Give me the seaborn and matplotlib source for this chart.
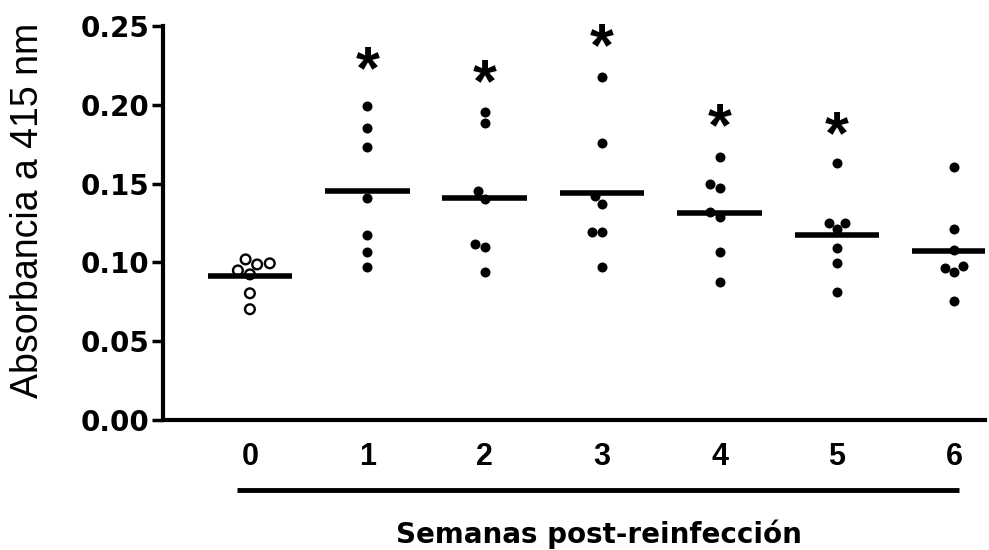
import numpy as np
import pandas as pd
import matplotlib
matplotlib.use("Agg")
import matplotlib.pyplot as plt
import seaborn as sns

# ---- data ----
weeks = ["0", "1", "2", "3", "4", "5", "6"]
w0 = [0.0994, 0.0949, 0.0924, 0.0987, 0.1019, 0.0804, 0.0703]
w1 = [0.199, 0.185, 0.173, 0.141, 0.1177, 0.1063, 0.0968]
w2 = [0.1956, 0.1886, 0.145, 0.140, 0.1114, 0.110, 0.0937]
w3 = [0.2177, 0.176, 0.142, 0.1373, 0.119, 0.119, 0.0968]
w4 = [0.1671, 0.150, 0.147, 0.132, 0.129, 0.1063, 0.0873]
w5 = [0.1633, 0.1253, 0.1247, 0.121, 0.1089, 0.0994, 0.081]
w6 = [0.1608, 0.1209, 0.108, 0.0975, 0.0962, 0.0937, 0.0753]
star_weeks = ["1", "2", "3", "4", "5"]
star_y = [0.229, 0.221, 0.244, 0.193, 0.188]
y_ticks = [0.00, 0.05, 0.10, 0.15, 0.20, 0.25]
y_tick_labels = ["0.00", "0.05", "0.10", "0.15", "0.20", "0.25"]

series = [w0, w1, w2, w3, w4, w5, w6]
df = pd.DataFrame({
    "week": np.repeat(weeks, [len(s) for s in series]),
    "abs": np.concatenate(series),
})

sns.set_theme(style="ticks")
plt.rcParams["font.family"] = ["Liberation Sans", "DejaVu Sans"]
plt.rcParams["text.color"] = "black"
plt.rcParams["axes.labelcolor"] = "black"
plt.rcParams["xtick.color"] = "black"
plt.rcParams["ytick.color"] = "black"
plt.rcParams["axes.edgecolor"] = "black"

fig = plt.figure(figsize=(9.89, 5.5), dpi=100)
ax = fig.add_axes([163 / 989, 130 / 550, (985 - 163) / 989, 394 / 550])

# open circles for week 0
n_before = len(ax.collections)
sns.swarmplot(data=df[df["week"] == "0"], x="week", y="abs", order=weeks,
              color="black", size=7, linewidth=1.7, edgecolor="black", ax=ax)
for coll in ax.collections[n_before:]:
    coll.set_facecolor("none")
    coll.set_edgecolor("black")
# filled points for weeks 1-6
sns.swarmplot(data=df[df["week"] != "0"], x="week", y="abs", order=weeks,
              color="black", size=7.2, linewidth=0, ax=ax)

# mean lines
means = df.groupby("week", sort=False)["abs"].mean().reindex(weeks)
pos = np.arange(len(weeks))
ax.hlines(means.values, pos - 0.36, pos + 0.36, color="black", lw=4, zorder=5)

# significance asterisks
star_fs = 44
for wk, yv in zip(star_weeks, star_y):
    ax.annotate("*", xy=(weeks.index(wk), yv), xytext=(0, -0.23 * star_fs),
                textcoords="offset points", ha="center", va="center",
                fontsize=star_fs, fontweight="bold", color="black")

ax.set_xlim(-0.74, 6.26)
ax.set_ylim(0, 0.25)
ax.set_yticks(y_ticks)
ax.set_yticklabels(y_tick_labels)
ax.tick_params(axis="y", length=8, width=2.5, pad=2, labelsize=20,
               color="black", labelcolor="black")
ax.tick_params(axis="x", length=0, pad=16, labelsize=22, labelcolor="black")
for lab in ax.get_yticklabels():
    lab.set_fontweight("bold")
    lab.set_family("DejaVu Sans")
for lab in ax.get_xticklabels():
    lab.set_fontweight("bold")

sns.despine(ax=ax)
ax.spines["left"].set_linewidth(3)
ax.spines["bottom"].set_linewidth(3)
ax.spines["left"].set_color("black")
ax.spines["bottom"].set_color("black")

ax.set_xlabel("")
ax.set_ylabel("Absorbancia a 415 nm", fontsize=27, color="black")
ax.yaxis.set_label_coords(-0.142, 0.533)

# grouping line and label below the categories
ax.plot([-0.11, 6.04], [-0.178, -0.178], transform=ax.get_xaxis_transform(),
        color="black", lw=3.5, clip_on=False, solid_capstyle="butt")
ax.text(2.97, -0.29, "Semanas post-reinfección", transform=ax.get_xaxis_transform(),
        ha="center", va="center", fontsize=20, fontweight="bold",
        family="DejaVu Sans", color="black")

fig.savefig("out.png", dpi=100)
